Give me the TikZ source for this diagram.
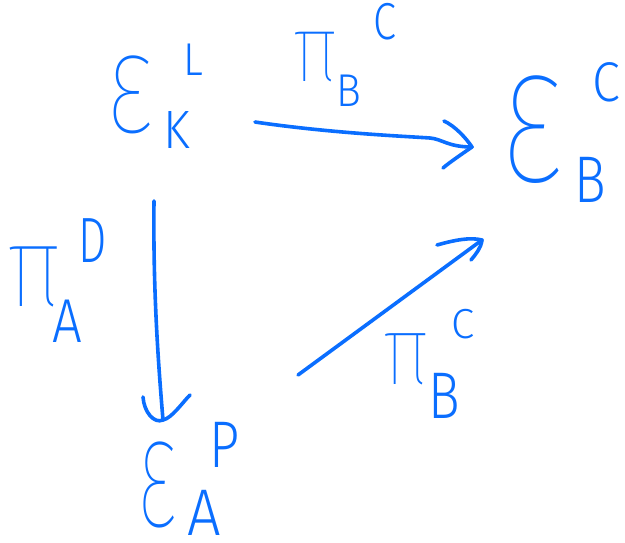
\documentclass[tikz,border=0pt]{standalone}
\usepackage{fontspec}
\usepackage{graphicx}
\setmainfont{Fira Sans Light}
\newfontfamily\thinface{Fira Sans Thin}
\definecolor{ink}{RGB}{10,110,255}
% one glyph: font size, horizontal squeeze, text
\newcommand\gl[3]{\scalebox{#2}[1]{\fontsize{#1}{#1}\selectfont #3}}
\newcommand\glt[3]{\scalebox{#2}[1]{\thinface\fontsize{#1}{#1}\selectfont #3}}
\tikzset{
  hw/.style={text=ink, inner sep=0pt, outer sep=0pt},
  wire/.style={draw=ink, line width=3.6pt, line cap=round, line join=round}
}
\begin{document}
\begin{tikzpicture}[x=1pt,y=-1pt]
\useasboundingbox (0,0) rectangle (625,543);
\fill[white] (0,0) rectangle (625,543);

% top-left object
\node[hw] (eKL)  at (130,95)  {\glt{145}{0.72}{ε}};
\node[hw] (eKLs) at (177,130) {\gl{54}{0.9}{K}};
\node[hw] (eKLt) at (193,60)  {\gl{46}{0.9}{L}};

% right object
\node[hw] (eBC)  at (532,130) {\glt{200}{0.7}{ε}};
\node[hw] (eBCs) at (590,180) {\gl{66}{0.8}{B}};
\node[hw] (eBCt) at (606,82)  {\gl{56}{0.9}{C}};

% bottom object
\node[hw] (eAP)  at (157,485) {\glt{160}{0.55}{ε}};
\node[hw] (eAPs) at (204,513) {\gl{66}{0.9}{A}};
\node[hw] (eAPt) at (225,445) {\gl{66}{0.8}{P}};

% label of the top arrow
\node[hw] (p1)  at (316,57)  {\glt{95}{0.85}{π}};
\node[hw] (p1s) at (349,91)  {\gl{46}{0.9}{B}};
\node[hw] (p1t) at (385,22)  {\gl{52}{0.8}{C}};

% label of the left arrow
\node[hw] (p2)  at (35,277)  {\glt{115}{0.85}{π}};
\node[hw] (p2s) at (67,321)  {\gl{62}{0.85}{A}};
\node[hw] (p2t) at (93,241)  {\gl{64}{0.7}{D}};

% label of the diagonal arrow
\node[hw] (p3)  at (406,359) {\glt{98}{0.85}{π}};
\node[hw] (p3s) at (444,396) {\gl{66}{0.8}{B}};
\node[hw] (p3t) at (463,324) {\gl{42}{1.0}{C}};

% arrow ends
\coordinate (a1s) at (255,122);
\coordinate (a1t) at (472,147);
\coordinate (a2s) at (154,201);
\coordinate (a2t) at (163,420);
\coordinate (a3s) at (298,375);
\coordinate (a3t) at (482,240);

% top arrow
\draw[wire] (a1s) .. controls (330,133) and (400,136) .. (430,138)
  .. controls (442,139) and (448,147) .. (a1t);
\draw[wire] (444,121) .. controls (455,126) and (466,138) .. (a1t)
  .. controls (462,154) and (450,162) .. (443,168);

% left arrow
\draw[wire] (a2s) .. controls (153,290) and (158,360) .. (a2t);
\draw[wire] (143,397) .. controls (144,412) and (154,424) .. (a2t)
  .. controls (172,418) and (182,403) .. (190,395);

% diagonal arrow
\draw[wire] (a3s) -- (a3t);
\draw[wire] (437,245) .. controls (455,240) and (470,237) .. (a3t)
  .. controls (481,248) and (476,254) .. (471,260);
\end{tikzpicture}
\end{document}
